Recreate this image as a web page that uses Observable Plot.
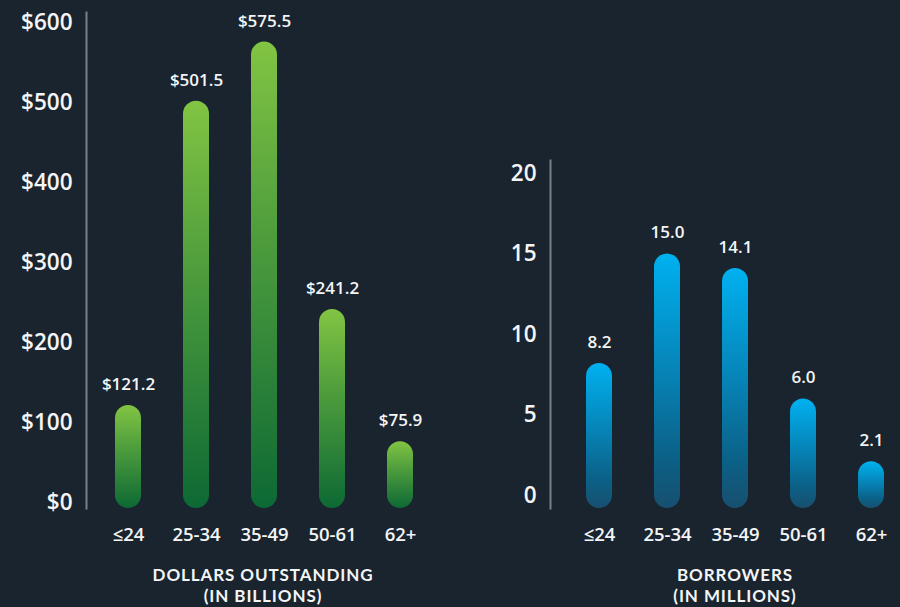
<!DOCTYPE html>
<html>
<head>
<meta charset="utf-8">
<script src="https://cdn.jsdelivr.net/npm/d3@7"></script>
<script src="https://cdn.jsdelivr.net/npm/@observablehq/plot@0.6"></script>
<style>
  html, body { margin: 0; padding: 0; background: #19242f; }
  #wrap { position: relative; width: 900px; height: 607px; overflow: hidden; background: #19242f;
          font-family: "Open Sans", Lato, sans-serif; color: #f4f5f6; }
  .panel { position: absolute; top: 0; }
  .panel svg { overflow: visible; }
  .panel g[aria-label="y-axis tick label"] { font-size: 22.5px; font-weight: 600; }
  .panel g[aria-label="x-axis tick label"] { font-size: 18.5px; font-weight: 600; }
  .title { position: absolute; text-align: center; font-family: Lato, "Open Sans", sans-serif;
           font-size: 17px; font-weight: 700; line-height: 17px; height: 17px;
           letter-spacing: 0.9px; color: #f4f5f6; white-space: nowrap; }
</style>
</head>
<body>
<div id="wrap">
  <div id="left" class="panel" style="left:0px"></div>
  <div id="right" class="panel" style="left:450px"></div>
  <div class="title" style="left:113px; top:566px; width:300px">DOLLARS OUTSTANDING</div>
  <div class="title" style="left:113px; top:587px; width:300px">(IN BILLIONS)</div>
  <div class="title" style="left:585px; top:566px; width:300px">BORROWERS</div>
  <div class="title" style="left:585px; top:587px; width:300px">(IN MILLIONS)</div>
</div>
<script>
// ---- data ----
const ages = ["≤24", "25-34", "35-49", "50-61", "62+"];
const dollars = [121.2, 501.5, 575.5, 241.2, 75.9];      // $ billions
const borrowers = [8.2, 15.0, 14.1, 6.0, 2.1];            // millions
const dollarTicks = [0, 100, 200, 300, 400, 500, 600];
const borrowerTicks = [0, 5, 10, 15, 20];

const dollarRows = ages.map((a, i) => ({age: a, value: dollars[i]}));
const borrowerRows = ages.map((a, i) => ({age: a, value: borrowers[i]}));

function addGradient(svg, id, stops) {
  const ns = "http://www.w3.org/2000/svg";
  const defs = document.createElementNS(ns, "defs");
  const g = document.createElementNS(ns, "linearGradient");
  g.setAttribute("id", id);
  g.setAttribute("x1", "0"); g.setAttribute("y1", "0");
  g.setAttribute("x2", "0"); g.setAttribute("y2", "1");
  for (const [off, col] of stops) {
    const s = document.createElementNS(ns, "stop");
    s.setAttribute("offset", off);
    s.setAttribute("stop-color", col);
    g.appendChild(s);
  }
  defs.appendChild(g);
  svg.insertBefore(defs, svg.firstChild);
}

function panel({rows, ticks, domain, fmt, labelFmt, gradId, yRange, marginTop, xRange, marginLeft, barExtend}) {
  return Plot.plot({
    width: 450,
    height: 555,
    marginLeft,
    marginRight: 0,
    marginTop,
    marginBottom: 47,
    style: {background: "transparent", color: "#f4f5f6", fontFamily: "'Open Sans', Lato, sans-serif", overflow: "visible"},
    x: {domain: ages, range: xRange, paddingInner: 0.62, paddingOuter: 0, tickSize: 0, tickPadding: 19, label: null},
    y: {domain, range: yRange, ticks, tickFormat: fmt, tickSize: 0, tickPadding: 14, label: null, line: true},
    marks: [
      Plot.barY(rows, {x: "age", y: "value", fill: `url(#${gradId})`, rx: 13, insetBottom: barExtend}),
      Plot.text(rows, {x: "age", y: "value", text: d => labelFmt(d.value), dy: -21,
                       fill: "#f4f5f6", fontSize: 17, fontWeight: 600})
    ]
  });
}

const left = panel({
  rows: dollarRows, ticks: dollarTicks, domain: [0, 600],
  fmt: d => "$" + d, labelFmt: v => "$" + v.toFixed(1),
  gradId: "gGreen", yRange: [502, 22], marginTop: 12,
  xRange: [114, 413], marginLeft: 86, barExtend: -6
});
addGradient(left, "gGreen", [["0", "#82c443"], ["0.45", "#4a9a3c"], ["1", "#0d6934"]]);
document.getElementById("left").appendChild(left);

const right = panel({
  rows: borrowerRows, ticks: borrowerTicks, domain: [0, 20],
  fmt: d => String(d), labelFmt: v => v.toFixed(1),
  gradId: "gBlue", yRange: [495, 173], marginTop: 160,
  xRange: [134, 435], marginLeft: 100, barExtend: -13
});
addGradient(right, "gBlue", [["0", "#00b1f0"], ["0.5", "#0780b2"], ["0.8", "#0b6187"], ["1", "#174f6f"]]);
document.getElementById("right").appendChild(right);

// axis line colour (the only line/path strokes in each panel)
document.querySelectorAll(".panel svg").forEach(svg => {
  svg.querySelectorAll("line, path").forEach(el => {
    el.setAttribute("stroke", "#7b8089"); el.setAttribute("stroke-width", "2");
    el.style.stroke = "#7b8089";
  });
});
</script>
</body>
</html>
